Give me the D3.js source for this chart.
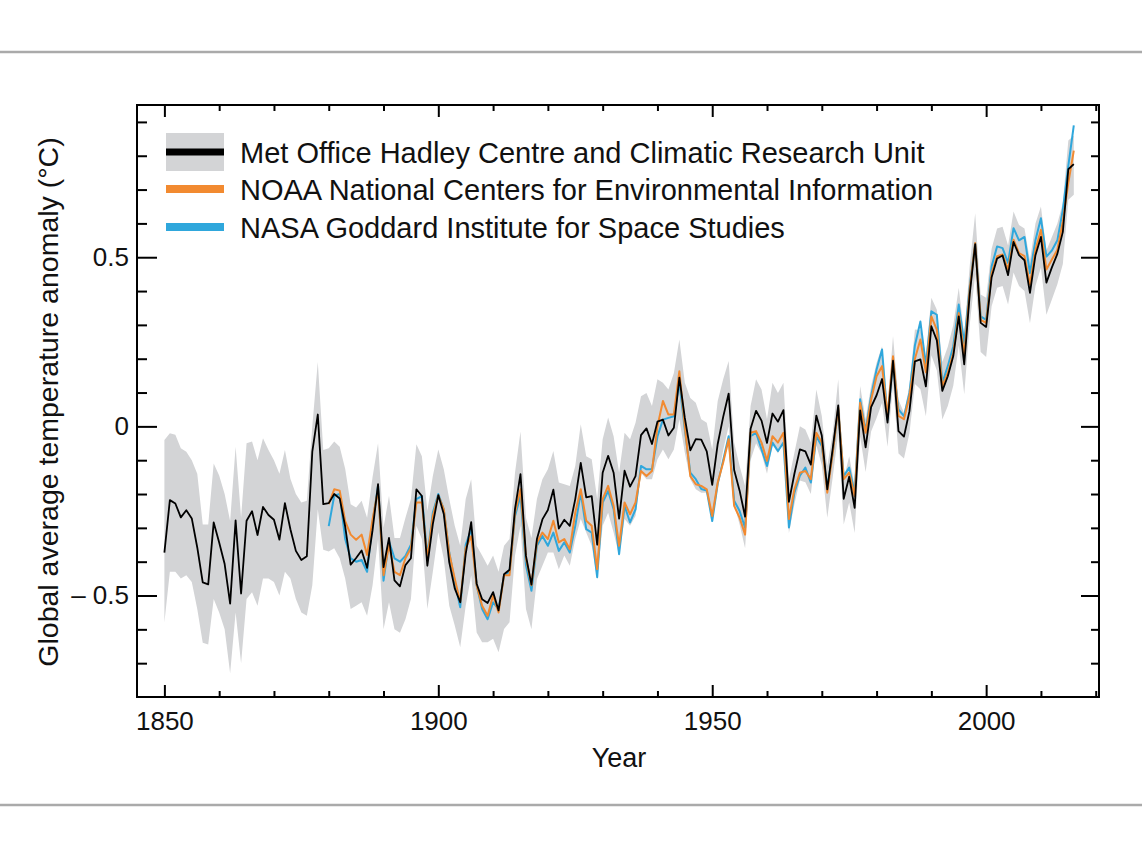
<!DOCTYPE html>
<html>
<head>
<meta charset="utf-8">
<script src="https://cdn.jsdelivr.net/npm/d3@7"></script>
<style>
  html, body { margin: 0; padding: 0; background: #fff; }
  svg { display: block; }
  text { font-family: "Liberation Sans", Arial, sans-serif; fill: #111; }
</style>
</head>
<body>
<svg id="chart" width="1142" height="857"></svg>
<script>
// ---------------- data ----------------
const firstYear = 1850;
const lastYear = 2016;
const noaaStart = 1880;

// Met Office Hadley Centre / CRU annual anomaly (°C)
const hadcrut = [
-0.373,-0.218,-0.228,-0.269,-0.248,-0.272,-0.358,-0.461,-0.467,-0.284,
-0.343,-0.407,-0.524,-0.278,-0.494,-0.279,-0.251,-0.321,-0.238,-0.262,
-0.276,-0.335,-0.227,-0.304,-0.368,-0.395,-0.384,-0.075,0.035,-0.230,
-0.227,-0.200,-0.213,-0.296,-0.409,-0.389,-0.367,-0.418,-0.307,-0.171,
-0.416,-0.330,-0.455,-0.473,-0.410,-0.390,-0.186,-0.206,-0.412,-0.289,
-0.203,-0.259,-0.402,-0.479,-0.520,-0.377,-0.283,-0.465,-0.511,-0.522,
-0.490,-0.544,-0.437,-0.424,-0.244,-0.141,-0.383,-0.468,-0.333,-0.275,
-0.247,-0.187,-0.302,-0.276,-0.294,-0.215,-0.108,-0.210,-0.206,-0.350,
-0.137,-0.087,-0.137,-0.273,-0.131,-0.178,-0.147,-0.026,-0.006,-0.052,
0.014,0.020,-0.027,-0.004,0.144,0.025,-0.071,-0.038,-0.039,-0.074,
-0.173,-0.052,0.028,0.097,-0.129,-0.190,-0.267,-0.007,0.046,0.017,
-0.049,0.038,0.014,0.048,-0.223,-0.140,-0.068,-0.074,-0.113,0.032,
-0.027,-0.186,-0.065,0.062,-0.214,-0.149,-0.241,0.047,-0.062,0.057,
0.092,0.140,0.011,0.194,-0.014,-0.030,0.045,0.192,0.198,0.118,
0.296,0.254,0.105,0.148,0.208,0.325,0.183,0.390,0.539,0.306,
0.294,0.441,0.496,0.505,0.447,0.545,0.506,0.491,0.395,0.506,
0.560,0.425,0.470,0.510,0.575,0.760,0.775
];

// Upper edge of uncertainty range
const hadUpper = [
-0.04,-0.02,-0.025,-0.065,-0.075,-0.10,-0.14,-0.29,-0.29,-0.11,
-0.145,-0.20,-0.28,-0.06,-0.27,-0.05,-0.045,-0.10,-0.035,-0.07,
-0.10,-0.14,-0.07,-0.155,-0.20,-0.225,-0.22,0.0,0.19,-0.07,
-0.065,-0.045,-0.06,-0.125,-0.23,-0.24,-0.22,-0.27,-0.15,-0.05,
-0.30,-0.205,-0.33,-0.33,-0.27,-0.215,-0.053,-0.088,-0.25,-0.147,
-0.068,-0.127,-0.215,-0.294,-0.353,-0.215,-0.156,-0.353,-0.382,-0.412,
-0.382,-0.43,-0.353,-0.333,-0.137,-0.015,-0.27,-0.33,-0.215,-0.156,
-0.127,-0.073,-0.166,-0.171,-0.176,-0.117,0.006,-0.088,-0.097,-0.215,
-0.038,0.026,-0.029,-0.137,-0.019,-0.038,0.011,0.089,0.099,0.06,
0.139,0.129,0.109,0.158,0.257,0.129,0.084,0.07,0.021,0.011,
-0.068,0.075,0.139,0.193,-0.048,-0.117,-0.176,0.06,0.139,0.109,
0.021,0.129,0.099,0.129,-0.156,-0.078,0.0,-0.009,-0.048,0.109,
0.031,-0.117,-0.019,0.139,-0.156,-0.088,-0.176,0.119,0.021,0.119,
0.188,0.237,0.06,0.267,0.079,0.04,0.119,0.286,0.285,0.21,
0.38,0.345,0.19,0.235,0.30,0.41,0.27,0.475,0.63,0.39,
0.38,0.525,0.585,0.59,0.535,0.635,0.595,0.585,0.49,0.60,
0.65,0.52,0.56,0.60,0.66,0.845,0.86
];

// Lower edge of uncertainty range
const hadLower = [
-0.58,-0.43,-0.43,-0.45,-0.44,-0.46,-0.54,-0.64,-0.645,-0.51,
-0.55,-0.60,-0.73,-0.55,-0.70,-0.51,-0.49,-0.53,-0.45,-0.45,
-0.46,-0.50,-0.43,-0.45,-0.51,-0.55,-0.56,-0.47,-0.245,-0.365,
-0.37,-0.36,-0.39,-0.45,-0.54,-0.53,-0.52,-0.56,-0.47,-0.333,
-0.60,-0.52,-0.60,-0.61,-0.57,-0.51,-0.294,-0.333,-0.54,-0.43,
-0.313,-0.392,-0.53,-0.589,-0.653,-0.53,-0.441,-0.609,-0.638,-0.638,
-0.628,-0.668,-0.599,-0.579,-0.382,-0.294,-0.54,-0.60,-0.451,-0.412,
-0.373,-0.373,-0.422,-0.382,-0.412,-0.333,-0.274,-0.314,-0.353,-0.451,
-0.294,-0.255,-0.314,-0.382,-0.274,-0.294,-0.265,-0.137,-0.156,-0.156,
-0.097,-0.068,-0.097,-0.068,0.021,-0.078,-0.156,-0.186,-0.196,-0.196,
-0.28,-0.16,-0.07,0.0,-0.23,-0.29,-0.36,-0.10,-0.05,-0.08,
-0.14,-0.055,-0.08,-0.045,-0.315,-0.23,-0.16,-0.165,-0.20,-0.055,
-0.115,-0.27,-0.15,-0.02,-0.29,-0.225,-0.315,-0.03,-0.135,-0.015,
0.025,0.07,-0.06,0.125,-0.08,-0.095,-0.02,0.125,0.11,0.03,
0.21,0.165,0.02,0.06,0.12,0.24,0.095,0.30,0.45,0.22,
0.205,0.355,0.41,0.415,0.36,0.455,0.415,0.40,0.305,0.415,
0.47,0.33,0.375,0.42,0.48,0.67,0.685
];

// NOAA National Centers for Environmental Information (from 1880)
const noaa = [
-0.23,-0.186,-0.19,-0.28,-0.32,-0.335,-0.32,-0.38,-0.275,-0.186,
-0.44,-0.35,-0.43,-0.44,-0.39,-0.36,-0.225,-0.225,-0.39,-0.265,
-0.205,-0.245,-0.375,-0.45,-0.52,-0.36,-0.325,-0.47,-0.53,-0.56,
-0.50,-0.55,-0.44,-0.44,-0.255,-0.186,-0.39,-0.47,-0.343,-0.314,
-0.333,-0.279,-0.343,-0.333,-0.363,-0.255,-0.186,-0.279,-0.294,-0.422,
-0.215,-0.176,-0.235,-0.353,-0.225,-0.26,-0.225,-0.132,-0.147,-0.132,
0.0,0.075,0.035,0.035,0.163,0.0,-0.147,-0.171,-0.176,-0.186,
-0.265,-0.166,-0.107,-0.038,-0.235,-0.27,-0.32,-0.019,-0.014,-0.048,
-0.102,-0.029,-0.048,-0.019,-0.274,-0.186,-0.137,-0.132,-0.156,-0.019,
-0.048,-0.196,-0.078,0.055,-0.156,-0.137,-0.206,0.07,-0.019,0.079,
0.148,0.178,0.031,0.207,0.031,0.021,0.089,0.20,0.257,0.16,
0.325,0.285,0.119,0.158,0.217,0.335,0.21,0.404,0.542,0.315,
0.306,0.453,0.503,0.508,0.464,0.552,0.512,0.503,0.419,0.522,
0.581,0.464,0.493,0.522,0.605,0.72,0.815
];

// NASA Goddard Institute for Space Studies (from 1880)
const nasa = [
-0.295,-0.205,-0.20,-0.333,-0.39,-0.40,-0.395,-0.43,-0.284,-0.176,
-0.456,-0.34,-0.39,-0.40,-0.383,-0.35,-0.215,-0.206,-0.383,-0.255,
-0.20,-0.245,-0.373,-0.46,-0.535,-0.35,-0.304,-0.47,-0.54,-0.57,
-0.52,-0.54,-0.44,-0.43,-0.265,-0.206,-0.41,-0.486,-0.353,-0.324,
-0.353,-0.314,-0.368,-0.343,-0.373,-0.294,-0.196,-0.304,-0.314,-0.446,
-0.225,-0.191,-0.245,-0.378,-0.235,-0.284,-0.245,-0.117,-0.127,-0.127,
-0.03,0.02,0.025,0.03,0.13,-0.01,-0.137,-0.156,-0.185,-0.19,
-0.28,-0.17,-0.10,-0.029,-0.22,-0.25,-0.30,-0.029,-0.019,-0.068,
-0.117,-0.048,-0.073,-0.048,-0.299,-0.196,-0.146,-0.122,-0.166,-0.029,
-0.058,-0.18,-0.077,0.05,-0.147,-0.122,-0.196,0.08,-0.014,0.09,
0.168,0.227,0.02,0.19,0.05,0.03,0.099,0.24,0.31,0.18,
0.34,0.33,0.128,0.178,0.237,0.36,0.245,0.413,0.541,0.325,
0.315,0.473,0.532,0.527,0.483,0.586,0.55,0.56,0.453,0.55,
0.615,0.502,0.52,0.55,0.64,0.77,0.89
];

const xMajorTicks = [1850, 1900, 1950, 2000];
const xMinorTicks = [1860,1870,1880,1890,1910,1920,1930,1940,1960,1970,1980,1990,2010,2020];
const yMajorTicks = [-0.5, 0, 0.5];
const yMinorTicks = [-0.7,-0.6,-0.4,-0.3,-0.2,-0.1,0.1,0.2,0.3,0.4,0.6,0.7,0.8,0.9];

const legendLabels = [
  "Met Office Hadley Centre and Climatic Research Unit",
  "NOAA National Centers for Environmental Information",
  "NASA Goddard Institute for Space Studies"
];
const xTitle = "Year";
const yTitle = "Global average temperature anomaly (°C)";

// ---------------- drawing ----------------
const colors = { band: "#d3d4d6", had: "#000000", noaa: "#f28a30", nasa: "#2fa7dc" };
const svg = d3.select("#chart");
const W = 1142, H = 857;
const plot = { left: 137, right: 1099, top: 105, bottom: 697 };

const x = d3.scaleLinear().domain([1845, 2020.6]).range([plot.left, plot.right]);
const y = d3.scaleLinear().domain([-0.8, 0.95]).range([plot.bottom, plot.top]);

// separator rules
svg.append("line").attr("x1", 0).attr("x2", W).attr("y1", 52).attr("y2", 52)
  .attr("stroke", "#aaaaaa").attr("stroke-width", 2.5);
svg.append("line").attr("x1", 0).attr("x2", W).attr("y1", 805).attr("y2", 805)
  .attr("stroke", "#aaaaaa").attr("stroke-width", 2.5);

const hadData = hadcrut.map((v, i) => ({ year: firstYear + i, v, lo: hadLower[i], hi: hadUpper[i] }));
const noaaData = noaa.map((v, i) => ({ year: noaaStart + i, v }));
const nasaData = nasa.map((v, i) => ({ year: noaaStart + i, v }));

const g = svg.append("g");

// uncertainty band
g.append("path").datum(hadData)
  .attr("fill", colors.band)
  .attr("d", d3.area().x(d => x(d.year)).y0(d => y(d.lo)).y1(d => y(d.hi)));

const line = d3.line().x(d => x(d.year)).y(d => y(d.v));
g.append("path").datum(nasaData).attr("fill", "none").attr("stroke", colors.nasa)
  .attr("stroke-width", 2).attr("stroke-linejoin", "round").attr("d", line);
g.append("path").datum(noaaData).attr("fill", "none").attr("stroke", colors.noaa)
  .attr("stroke-width", 2).attr("stroke-linejoin", "round").attr("d", line);
g.append("path").datum(hadData).attr("fill", "none").attr("stroke", colors.had)
  .attr("stroke-width", 1.8).attr("stroke-linejoin", "round").attr("d", line);

// axes (ticks point inward)
function styleAxis(sel) {
  sel.select(".domain").remove();
  sel.selectAll(".tick line").attr("stroke", "#000").attr("stroke-width", 2);
  sel.selectAll(".tick text").style("font-size", "26px").style("font-family", '"Liberation Sans", Arial, sans-serif').attr("fill", "#111");
}
const fmtY = d => d < 0 ? "\u2013 " + Math.abs(d) : (d === 0 ? "0" : String(d));

svg.append("g").attr("transform", `translate(0,${plot.bottom})`)
  .call(d3.axisBottom(x).tickValues(xMajorTicks).tickSize(-12).tickPadding(15).tickFormat(d3.format("d")))
  .call(styleAxis);
svg.append("g").attr("transform", `translate(0,${plot.bottom})`)
  .call(d3.axisBottom(x).tickValues(xMinorTicks).tickSize(-6).tickFormat(""))
  .call(styleAxis);
svg.append("g").attr("transform", `translate(0,${plot.top})`)
  .call(d3.axisTop(x).tickValues(xMajorTicks).tickSize(-12).tickFormat(""))
  .call(styleAxis);
svg.append("g").attr("transform", `translate(0,${plot.top})`)
  .call(d3.axisTop(x).tickValues(xMinorTicks).tickSize(-6).tickFormat(""))
  .call(styleAxis);

svg.append("g").attr("transform", `translate(${plot.left},0)`)
  .call(d3.axisLeft(y).tickValues(yMajorTicks).tickSize(-20).tickPadding(8).tickFormat(fmtY))
  .call(styleAxis);
svg.append("g").attr("transform", `translate(${plot.left},0)`)
  .call(d3.axisLeft(y).tickValues(yMinorTicks).tickSize(-10).tickFormat(""))
  .call(styleAxis);
svg.append("g").attr("transform", `translate(${plot.right},0)`)
  .call(d3.axisRight(y).tickValues(yMajorTicks).tickSize(-18).tickFormat(""))
  .call(styleAxis);
svg.append("g").attr("transform", `translate(${plot.right},0)`)
  .call(d3.axisRight(y).tickValues(yMinorTicks).tickSize(-8).tickFormat(""))
  .call(styleAxis);

// frame
svg.append("rect").attr("x", plot.left).attr("y", plot.top)
  .attr("width", plot.right - plot.left).attr("height", plot.bottom - plot.top)
  .attr("fill", "none").attr("stroke", "#000").attr("stroke-width", 2);

// axis titles
svg.append("text").attr("x", 619).attr("y", 767)
  .attr("text-anchor", "middle").style("font-size", "27px").text(xTitle);
svg.append("text").attr("transform", "translate(58,402) rotate(-90)")
  .attr("text-anchor", "middle").style("font-size", "28.5px").text(yTitle);

// legend
const lg = svg.append("g");
lg.append("rect").attr("x", 166).attr("y", 133).attr("width", 58).attr("height", 38).attr("fill", colors.band);
const legendColors = [colors.had, colors.noaa, colors.nasa];
const legendY = [152, 189, 227];
legendLabels.forEach((lab, i) => {
  lg.append("line").attr("x1", 166).attr("x2", 224).attr("y1", legendY[i]).attr("y2", legendY[i])
    .attr("stroke", legendColors[i]).attr("stroke-width", i === 0 ? 7 : 8);
  lg.append("text").attr("x", 240).attr("y", legendY[i] + 11)
    .style("font-size", "29px").text(lab);
});
</script>
</body>
</html>
